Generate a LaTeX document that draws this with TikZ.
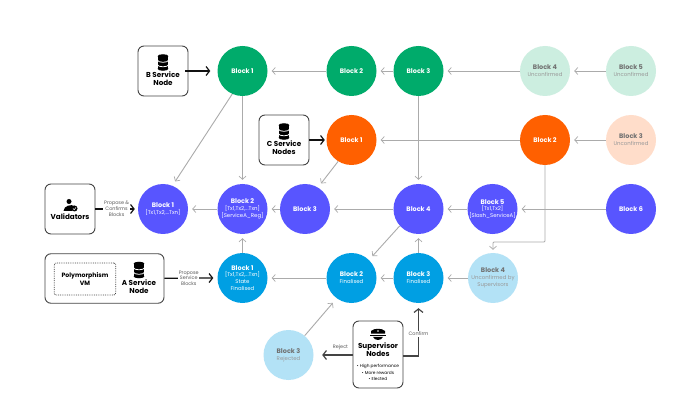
\documentclass[tikz,border=0pt]{standalone}
\usepackage{fontspec}
\setmainfont{Poppins}
\usetikzlibrary{arrows.meta,calc}
\definecolor{cgreen}{HTML}{00AB6B}
\definecolor{corange}{HTML}{FF6000}
\definecolor{cpurple}{HTML}{5855FF}
\definecolor{cblue}{HTML}{009FE3}
\definecolor{lgreen}{HTML}{CCEEE0}
\definecolor{lorange}{HTML}{FFDDCA}
\definecolor{lblue}{HTML}{B3E2F6}
\definecolor{flow}{HTML}{ABABAB}
\definecolor{dk}{HTML}{111111}
\definecolor{edgeg}{HTML}{444444}
\definecolor{paletitle}{HTML}{707070}
\newcommand{\ttl}[1]{{\fontsize{6.5}{6.9}\selectfont\bfseries #1}}
\newcommand{\ttp}[1]{{\fontsize{6.5}{6.9}\selectfont\bfseries\color{paletitle}#1}}
\tikzset{
  blockn/.style={circle,minimum size=50pt,inner sep=0pt,align=center,text=white,font=\fontsize{5.4}{6.9}\selectfont},
  gs/.style={blockn,fill=cgreen},
  os/.style={blockn,fill=corange},
  ps/.style={blockn,fill=cpurple},
  bs/.style={blockn,fill=cblue},
  paleg/.style={blockn,fill=lgreen,text=black!40},
  paleo/.style={blockn,fill=lorange,text=black!40},
  paleb/.style={blockn,fill=lblue,text=black!40},
  flowline/.style={draw=flow,line width=0.9pt,-{Straight Barb[length=3.2pt,width=7pt,line width=0.7pt]},shorten >=4pt},
  actor/.style={draw=dk,line width=1.3pt,-{Straight Barb[length=3.5pt,width=9pt,line width=1.2pt]}},
  boxn/.style={draw=edgeg,line width=0.9pt,rounded corners=6pt,fill=white,inner sep=0pt},
  boxtxt/.style={font=\fontsize{7.2}{8}\selectfont\bfseries,align=center,text=black,inner sep=0pt},
  edgelbl/.style={font=\fontsize{4.9}{5.8}\selectfont,align=center,text=black!65,fill=white,inner sep=0.8pt},
  dbicon/.pic={
    \fill[black] (-6,-7) rectangle (6,7);
    \fill[black] (0,-7) ellipse (6 and 2.2);
    \fill[black] (0,7) ellipse (6 and 2.2);
    \draw[white,line width=0.8pt] (-6,-2.4) arc[start angle=180,end angle=360,x radius=6,y radius=-2.2];
    \draw[white,line width=0.8pt] (-6,2.6) arc[start angle=180,end angle=360,x radius=6,y radius=-2.2];
  }
}
\begin{document}
\begin{tikzpicture}[x=1pt,y=-1pt]
\useasboundingbox (0,0) rectangle (691,414);
\fill[white] (0,0) rectangle (691,414);
% blocks
\node[gs] (g1) at (242.5,71) {\ttl{Block 1}};
\node[gs] (g2) at (351.5,71) {\ttl{Block 2}};
\node[gs] (g3) at (418.5,71) {\ttl{Block 3}};
\node[paleg] (g4) at (545,71) {\ttp{Block 4}\\Unconfirmed};
\node[paleg] (g5) at (631,71) {\ttp{Block 5}\\Unconfirmed};
\node[os] (o1) at (351.5,140) {\ttl{Block 1}};
\node[os] (o2) at (545,140) {\ttl{Block 2}};
\node[paleo] (o3) at (631,140) {\ttp{Block 3}\\Unconfirmed};
\node[ps] (p1) at (163,209) {\ttl{Block 1}\\{}[Tx1,Tx2,...Txn]};
\node[ps] (p2) at (242.5,209) {\ttl{Block 2}\\{}[Tx1,Tx2,...Txn]\\{}[ServiceA\_Reg]};
\node[ps] (p3) at (305,209) {\ttl{Block 3}};
\node[ps] (p4) at (418.5,209) {\ttl{Block 4}};
\node[ps] (p5) at (492.5,209) {\ttl{Block 5}\\{}[Tx1,Tx2]\\{}[Slash\_ServiceA]};
\node[ps] (p6) at (631,209) {\ttl{Block 6}};
\node[bs] (b1) at (242.5,278) {\ttl{Block 1}\\{}[Tx1,Tx2,...Txn]\\State\\Finalised};
\node[bs] (b2) at (351.5,278) {\ttl{Block 2}\\Finalised};
\node[bs] (b3) at (418.5,278) {\ttl{Block 3}\\Finalised};
\node[paleb] (b4) at (493,278) {\ttp{Block 4}\\Unconfirmed by\\Supervisors};
\node[paleb] (r3) at (288.5,355) {\ttp{Block 3}\\Rejected};
% boxes
\node[boxn,minimum width=50pt,minimum height=50pt] (bsvc) at (163,71) {};
\node[boxn,minimum width=50pt,minimum height=50pt] (csvc) at (284,140) {};
\node[boxn,minimum width=50pt,minimum height=50pt] (val) at (70,209) {};
\node[boxn,minimum width=119pt,minimum height=49.5pt] (asvc) at (104.5,278.5) {};
\node[draw=edgeg,densely dotted,line width=0.8pt,rounded corners=2pt,minimum width=61.5pt,minimum height=32pt,inner sep=0pt,font=\fontsize{6.2}{7.2}\selectfont\bfseries,align=center] (poly) at (85,279) {Polymorphism\\VM};
\node[boxn,minimum width=50pt,minimum height=67pt] (sup) at (378,354.5) {};
% box contents
\pic[scale=0.9] at (163,62.5) {dbicon};
\pic[scale=0.9] at (284,131.5) {dbicon};
\pic[scale=0.9] at (139,270) {dbicon};
\node[boxtxt] (bt) at (163,78.5) {B Service\\Node};
\node[boxtxt] (ct) at (284,147.5) {C Service\\Nodes};
\node[boxtxt] (vt) at (70,217) {Validators};
\node[boxtxt] (at) at (139,287) {A Service\\Node};
\node[boxtxt] (st) at (378,350) {Supervisor\\Nodes};
\node[font=\fontsize{4.3}{6.3}\selectfont,align=center,inner sep=0pt] (sl) at (378,372.5) {• High performance\\• More rewards\\• Elected};
% validator icon
\fill[black] (69,201.5) circle (2.5);
\fill[black] (63.5,211) .. controls (63.5,205.5) and (72,204) .. (74,206) -- (72,211) -- cycle;
\fill[black] (74.5,208.5) circle (3);
\draw[white,line width=0.5pt] (73,208.5) -- (74.2,209.8) -- (76,207.4);
% hat icon
\fill[black] (371,331) .. controls (374,328) and (382,328) .. (385,331) -- (385,333.5) -- (371,333.5) -- cycle;
\fill[black] (370,334.5) rectangle (386,336);
\fill[black] (373,336.8) .. controls (374,341) and (382,341) .. (383,336.8) -- cycle;
\fill[white] (378,331) circle (0.9);
% flow connectors
\draw[flowline] (g2) -- (g1);
\draw[flowline] (g3) -- (g2);
\draw[flowline] (g4) -- (g3);
\draw[flowline] (g5) -- (g4);
\draw[flowline] (o2) -- (o1);
\draw[flowline] (o3) -- (o2);
\draw[flowline] (p2) -- (p1);
\draw[flowline] (p3) -- (p2);
\draw[flowline] (p4) -- (p3);
\draw[flowline] (p5) -- (p4);
\draw[flowline] (p6) -- (p5);
\draw[flowline] (b2) -- (b1);
\draw[flowline] (b3) -- (b2);
\draw[flowline] (b4) -- (b3);
\draw[flowline] (g1) -- (p2);
\draw[flowline] (g3) -- (p4);
\draw[flowline] (b1) -- (p2);
\draw[flowline] (b3) -- (p4);
\draw[flowline,shorten >=5pt] (g1.246) -- (p1.68);
\draw[flowline,shorten >=5pt] (o1.238) -- (p3.59);
\draw[flowline,shorten >=5pt] (p4.222) -- (b2.46);
\draw[flowline,shorten >=6pt] (r3.50) -- (b2.234);
\coordinate (bend) at (545,242);
\draw[flowline,rounded corners=1pt,shorten >=3pt] (o2) -- (bend) -- (493,242) -- (b4);
% actor connectors
\draw[actor,shorten >=7pt] ($(bsvc.east)+(-3,0)$) -- (g1);
\draw[actor,shorten >=1.5pt] (csvc) -- (o1);
\draw[actor,shorten >=3pt] (val) -- (p1) node[edgelbl,midway] (l1) {Propose \&\\Confirms\\Blocks};
\draw[actor,shorten >=4pt] (asvc) -- (b1.west) node[edgelbl,pos=0.46] (l2) {Propose\\Service\\Blocks};
\coordinate (cf) at (418.5,356);
\draw[actor,draw=edgeg,shorten >=5pt] (sup.east |- cf) -- (cf) -- (b3);
\node[edgelbl] (l3) at (418.5,334) {Confirm};
\draw[actor,draw=edgeg,shorten >=8.5pt] (sup.west |- r3) -- (r3);
\node[edgelbl,fill=none] (l4) at (340.5,347.5) {Reject};
\end{tikzpicture}
\end{document}
